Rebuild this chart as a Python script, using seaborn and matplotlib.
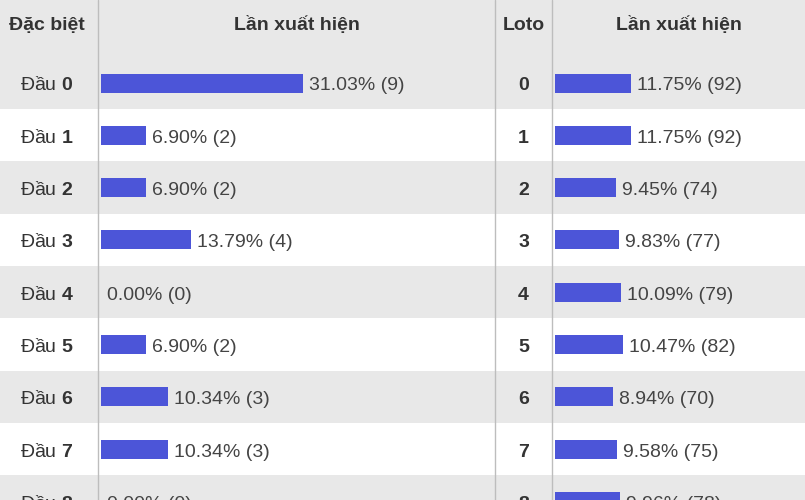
import matplotlib
matplotlib.use('Agg')
import matplotlib.pyplot as plt
import seaborn as sns
import pandas as pd

# ---- data ----
special_heads = ['0', '1', '2', '3', '4', '5', '6', '7', '8']
special_pct = [31.03, 6.90, 6.90, 13.79, 0.00, 6.90, 10.34, 10.34, 0.00]
special_cnt = [9, 2, 2, 4, 0, 2, 3, 3, 0]
loto_labels = ['0', '1', '2', '3', '4', '5', '6', '7', '8']
loto_pct = [11.75, 11.75, 9.45, 9.83, 10.09, 10.47, 8.94, 9.58, 9.96]
loto_cnt = [92, 92, 74, 77, 79, 82, 70, 75, 78]
headers = ['Đặc biệt', 'Lần xuất hiện', 'Loto', 'Lần xuất hiện']

sns.set_theme(style='white')
plt.rcParams['font.family'] = ['Liberation Sans', 'DejaVu Sans']
plt.rcParams['mathtext.fontset'] = 'custom'
plt.rcParams['mathtext.rm'] = 'Liberation Sans'
plt.rcParams['mathtext.bf'] = 'Liberation Sans:bold'

W, H = 805, 500
ROW0, PITCH = 83.0, 52.33
PXPCT = 6.5
BASE = 7.5 / PITCH   # baseline offset below row centre
y_top = (0 - ROW0) / PITCH
y_bot = (H - ROW0) / PITCH
TXT = '#333333'
VAL = '#444444'
GRAY = '#e8e8e8'
BAR = '#4c55d8'
FS = 14

fig = plt.figure(figsize=(W / 100, H / 100), dpi=100)
bg = fig.add_axes([0, 0, 1, 1])
bg.set_xlim(0, W)
bg.set_ylim(y_bot, y_top)
bg.axis('off')

# bands
bg.axhspan(y_top, -0.5, color=GRAY, lw=0, zorder=0)
for i in range(len(loto_labels)):
    if i % 2 == 0:
        bg.axhspan(i - 0.5, i + 0.5, color=GRAY, lw=0, zorder=0)

# separators
for xp in (98, 495, 552):
    bg.axvline(xp, color='#bdbdbd', lw=1.0, zorder=1)

# headers
hy = (30 - ROW0) / PITCH
for xc, t in zip((47, 296.5, 523.5, 679), headers):
    bg.text(xc, hy, t, ha='center', va='baseline', fontsize=FS,
            fontweight='bold', color=TXT)

# row labels
for i, h in enumerate(special_heads):
    bg.text(47, i + BASE, 'Đầu $\\mathbf{' + h + '}$', ha='center',
            va='baseline', fontsize=FS, color=TXT)
for i, l in enumerate(loto_labels):
    bg.text(523.5, i + BASE, l, ha='center', va='baseline', fontsize=FS,
            fontweight='bold', color=TXT)


def bar_panel(x0, x1, labels, pct, cnt):
    ax = fig.add_axes([x0 / W, 0, (x1 - x0) / W, 1])
    ax.patch.set_alpha(0)
    df = pd.DataFrame({'lab': labels, 'pct': pct})
    sns.barplot(data=df, x='pct', y='lab', orient='h', color=BAR,
                saturation=1, width=19 / PITCH, ax=ax, linewidth=0)
    ax.set_xlim(-3 / PXPCT, (x1 - x0 - 3) / PXPCT)
    ax.set_ylim(y_bot, y_top)
    ax.axis('off')
    for i, (p, c) in enumerate(zip(pct, cnt)):
        ax.annotate(f'{p:.2f}% ({c})', xy=(p, i + BASE), xytext=(6, 0),
                    textcoords='offset points' if False else 'offset pixels',
                    ha='left', va='baseline', fontsize=FS, color=VAL,
                    annotation_clip=False)
    return ax


bar_panel(98, 495, special_heads, special_pct, special_cnt)
bar_panel(552, 805, loto_labels, loto_pct, loto_cnt)

fig.savefig('out.png', dpi=100)
